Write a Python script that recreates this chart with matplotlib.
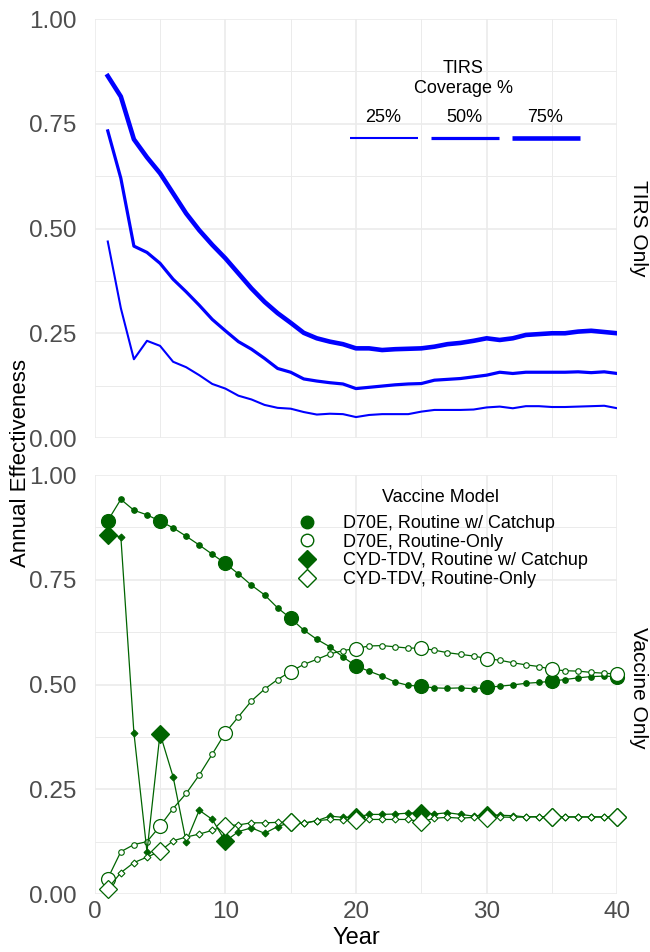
import numpy as np
import matplotlib
matplotlib.use("Agg")
import matplotlib.pyplot as plt
from matplotlib.lines import Line2D

plt.rcParams['font.family'] = ['Liberation Sans', 'DejaVu Sans']

years = np.arange(1, 41)
big_years = [1, 5, 10, 15, 20, 25, 30, 35, 40]

# TIRS only, by coverage
coverage_labels = ['25%', '50%', '75%']
tirs_25 = [0.469, 0.310, 0.188, 0.232, 0.220, 0.182, 0.169, 0.150, 0.129, 0.118,
           0.101, 0.092, 0.079, 0.072, 0.070, 0.062, 0.056, 0.058, 0.057, 0.050,
           0.055, 0.057, 0.057, 0.057, 0.063, 0.067, 0.067, 0.067, 0.068, 0.073,
           0.075, 0.071, 0.076, 0.076, 0.074, 0.074, 0.075, 0.076, 0.077, 0.071]
tirs_50 = [0.733, 0.620, 0.458, 0.443, 0.417, 0.379, 0.349, 0.317, 0.283, 0.256,
           0.230, 0.212, 0.190, 0.166, 0.157, 0.141, 0.136, 0.132, 0.129, 0.118,
           0.121, 0.124, 0.127, 0.129, 0.130, 0.138, 0.140, 0.142, 0.146, 0.150,
           0.157, 0.154, 0.157, 0.157, 0.157, 0.157, 0.158, 0.156, 0.158, 0.154]
tirs_75 = [0.864, 0.815, 0.713, 0.670, 0.632, 0.584, 0.536, 0.496, 0.461, 0.429,
           0.393, 0.357, 0.325, 0.298, 0.275, 0.251, 0.238, 0.230, 0.224, 0.214,
           0.214, 0.210, 0.212, 0.213, 0.214, 0.218, 0.224, 0.227, 0.232, 0.238,
           0.234, 0.238, 0.246, 0.248, 0.250, 0.250, 0.254, 0.256, 0.253, 0.250]

# Vaccine only, by model
vaccine_labels = ['D70E, Routine w/ Catchup', 'D70E, Routine-Only',
                  'CYD-TDV, Routine w/ Catchup', 'CYD-TDV, Routine-Only']
d70e_catchup = [0.891, 0.942, 0.916, 0.905, 0.890, 0.874, 0.854, 0.833, 0.811, 0.789,
                0.764, 0.737, 0.714, 0.683, 0.658, 0.630, 0.608, 0.590, 0.566, 0.544,
                0.532, 0.520, 0.506, 0.498, 0.496, 0.492, 0.491, 0.492, 0.490, 0.493,
                0.496, 0.499, 0.503, 0.505, 0.508, 0.512, 0.516, 0.519, 0.520, 0.519]
d70e_routine = [0.037, 0.101, 0.118, 0.125, 0.162, 0.204, 0.240, 0.284, 0.334, 0.385,
                0.423, 0.461, 0.489, 0.512, 0.531, 0.548, 0.560, 0.573, 0.581, 0.586,
                0.592, 0.593, 0.590, 0.587, 0.587, 0.582, 0.576, 0.572, 0.568, 0.562,
                0.558, 0.552, 0.547, 0.543, 0.536, 0.533, 0.532, 0.529, 0.527, 0.525]
cyd_catchup = [0.857, 0.853, 0.385, 0.101, 0.383, 0.280, 0.125, 0.200, 0.178, 0.126,
               0.149, 0.158, 0.145, 0.161, 0.171, 0.169, 0.175, 0.186, 0.183, 0.183,
               0.190, 0.190, 0.191, 0.193, 0.194, 0.191, 0.194, 0.190, 0.186, 0.189,
               0.188, 0.187, 0.184, 0.185, 0.184, 0.184, 0.184, 0.184, 0.184, 0.184]
cyd_routine = [0.013, 0.051, 0.075, 0.088, 0.102, 0.127, 0.136, 0.143, 0.152, 0.163,
               0.165, 0.170, 0.170, 0.171, 0.171, 0.169, 0.175, 0.178, 0.177, 0.177,
               0.178, 0.178, 0.178, 0.178, 0.172, 0.181, 0.183, 0.181, 0.183, 0.181,
               0.184, 0.183, 0.184, 0.184, 0.184, 0.184, 0.184, 0.184, 0.184, 0.184]

blue = '#0000FF'
green = '#006400'
grid_col = '#EBEBEB'
tick_col = '#4D4D4D'

fig = plt.figure(figsize=(6.5, 9.52), dpi=100)
ax1 = fig.add_axes([0.1457, 0.5399, 0.804, 0.4401])
ax2 = fig.add_axes([0.1457, 0.0609, 0.804, 0.4401])


def style_axis(ax):
    ax.set_xlim(0, 40)
    ax.set_ylim(0, 1)
    ax.set_xticks([0, 10, 20, 30, 40])
    ax.set_xticks([5, 15, 25, 35], minor=True)
    ax.set_yticks([0, 0.25, 0.5, 0.75, 1.0])
    ax.set_yticks([0.125, 0.375, 0.625, 0.875], minor=True)
    ax.set_yticklabels(['0.00', '0.25', '0.50', '0.75', '1.00'])
    ax.grid(which='major', color=grid_col, lw=1.2)
    ax.grid(which='minor', color=grid_col, lw=0.7)
    ax.set_axisbelow(True)
    for s in ax.spines.values():
        s.set_visible(False)
    ax.tick_params(which='both', length=0, labelsize=17.5, colors=tick_col)
    ax.tick_params(axis='y', pad=13)
    ax.tick_params(axis='x', pad=5)


style_axis(ax1)
style_axis(ax2)
ax1.set_xticklabels([])

# top panel: TIRS only
tirs_series = [tirs_25, tirs_50, tirs_75]
tirs_widths = [1.5, 2.3, 3.3]
for vals, w in zip(tirs_series, tirs_widths):
    ax1.plot(years, vals, color=blue, lw=w, solid_joinstyle='round')

# legend drawn by hand (labels above keys)
ax1.text(0.705, 0.858, 'TIRS\nCoverage %', transform=ax1.transAxes, ha='center',
         va='center', fontsize=13, linespacing=1.25)
key_x = [0.619, 0.774, 0.929]
for kx, lab, w in zip(key_x, coverage_labels, tirs_widths):
    ax1.text(kx - 0.067, 0.765, lab, transform=ax1.transAxes, ha='center',
             va='center', fontsize=13)
    ax1.plot([kx - 0.13, kx], [0.717, 0.717], transform=ax1.transAxes,
             color=blue, lw=w, solid_capstyle='butt')

# bottom panel: vaccine only
vac_series = [d70e_catchup, d70e_routine, cyd_catchup, cyd_routine]
vac_markers = ['o', 'o', 'D', 'D']
vac_fill = [green, 'white', green, 'white']
big_size = [10, 10, 9, 9]
small_size = [4, 4, 3.5, 3.5]
for vals, mk, fc, bs, ss in zip(vac_series, vac_markers, vac_fill, big_size, small_size):
    vals = np.array(vals)
    ax2.plot(years, vals, color=green, lw=0.9, marker=mk, ms=ss, mfc=fc,
             mec=green, mew=0.8, clip_on=False)
    idx = [y - 1 for y in big_years]
    ax2.plot(years[idx], vals[idx], ls='none', marker=mk, ms=bs, mfc=fc,
             mec=green, mew=0.9, clip_on=False)

ax2.text(0.662, 0.946, 'Vaccine Model', transform=ax2.transAxes, ha='center',
         va='center', fontsize=13)
handles = [Line2D([], [], ls='none', marker=mk, ms=9, mfc=fc, mec=green, mew=1)
           for mk, fc in zip(vac_markers, vac_fill)]
ax2.legend(handles, vaccine_labels, loc='upper left',
           bbox_to_anchor=(0.389, 0.905), frameon=False, fontsize=13,
           labelspacing=0.1, handletextpad=1.5, handlelength=1.0,
           borderaxespad=0, borderpad=0)

ax2.set_xlabel('Year', fontsize=17, labelpad=3)
fig.text(0.032, 0.514, 'Annual Effectiveness', rotation=90, ha='center', va='center',
         fontsize=16)

# facet strip labels
fig.text(0.983, 0.76, 'TIRS Only', rotation=-90, ha='center', va='center', fontsize=15)
fig.text(0.983, 0.277, 'Vaccine Only', rotation=-90, ha='center', va='center', fontsize=15)

fig.savefig('out.png', dpi=100)
